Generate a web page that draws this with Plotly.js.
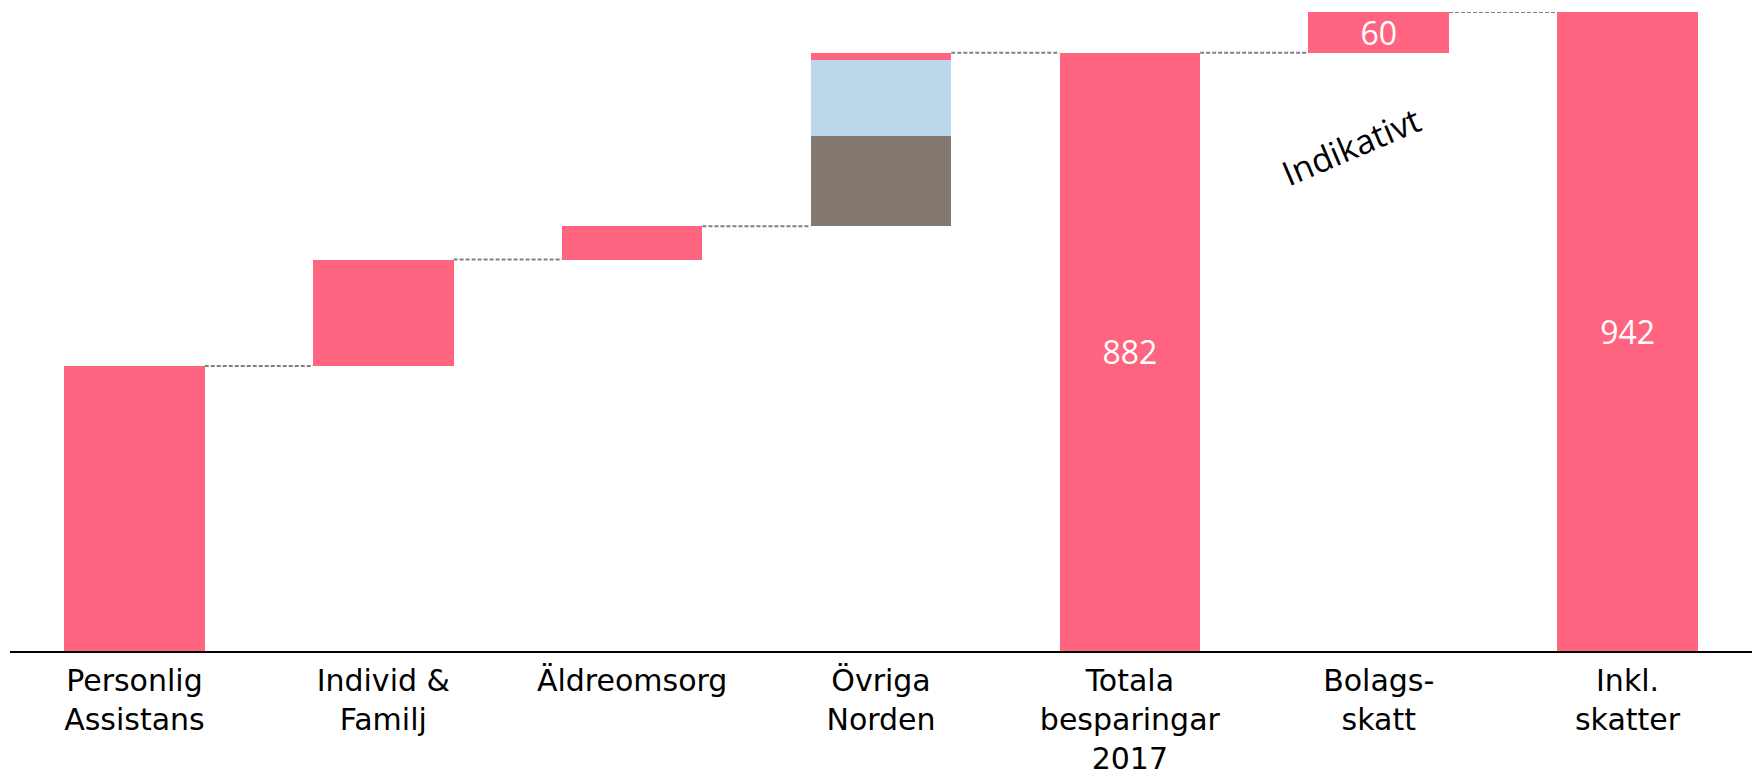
<!DOCTYPE html>
<html>
<head>
<meta charset="utf-8">
<script src="https://cdn.plot.ly/plotly-3.0.1.min.js"></script>
<style>html,body{margin:0;padding:0;background:#fff;}#chart{width:1759px;height:779px;}</style>
</head>
<body>
<div id="chart"></div>
<script>
var categories = ["Personlig<br>Assistans", "Individ &amp;<br>Familj", "Äldreomsorg", "Övriga<br>Norden", "Totala<br>besparingar<br>2017", "Bolags-<br>skatt", "Inkl.<br>skatter"];
var baseValues = [0, 420, 577, 626, 0, 882, 0];
var brownValues = [0, 0, 0, 133, 0, 0, 0];
var blueValues = [0, 0, 0, 112, 0, 0, 0];
var pinkValues = [420, 157, 49, 11, 882, 60, 942];
var valueLabels = ["", "", "", "", "882", "60", "942"];
var annotationText = "Indikativt";

var PINK = "#FF6580", BLUE = "#BAD8EA", BROWN = "#82786F";
var barWidthFrac = 0.565;

var traces = [
  {type:"bar", x:categories, y:baseValues, marker:{color:"rgba(0,0,0,0)"}, hoverinfo:"skip", showlegend:false},
  {type:"bar", x:categories, y:brownValues, marker:{color:BROWN}, hoverinfo:"skip", showlegend:false},
  {type:"bar", x:categories, y:blueValues, marker:{color:BLUE}, hoverinfo:"skip", showlegend:false},
  {type:"bar", x:categories, y:pinkValues, marker:{color:PINK}, hoverinfo:"skip", showlegend:false,
   text:valueLabels, textposition:"inside", insidetextanchor:"middle", constraintext:"none", textangle:0,
   textfont:{family:"Open Sans", size:32, color:"#ffffff"}}
];

var tops = categories.map(function(_, i){ return baseValues[i] + brownValues[i] + blueValues[i] + pinkValues[i]; });
var shapes = [];
for (var i = 0; i < categories.length - 1; i++) {
  shapes.push({type:"line", xref:"x", yref:"y",
    x0: i + barWidthFrac/2, x1: i + 1 - barWidthFrac/2, y0: tops[i], y1: tops[i],
    line:{color:"#808080", width:2, dash:"4px,2px"}});
}

var layout = {
  width:1759, height:779,
  margin:{l:10, r:7, t:12, b:128, pad:0},
  paper_bgcolor:"#fff", plot_bgcolor:"#fff",
  barmode:"stack", bargap:1 - barWidthFrac,
  showlegend:false, hovermode:false,
  font:{family:"DejaVu Sans", color:"#000"},
  xaxis:{type:"category", range:[-0.5, categories.length - 0.5], showline:true, linecolor:"#000", linewidth:2,
    showgrid:false, zeroline:false, ticks:"", ticklabelstandoff:2,
    tickfont:{family:"DejaVu Sans", size:30, color:"#000"}, fixedrange:true},
  yaxis:{range:[0, 942], visible:false, showgrid:false, zeroline:false, fixedrange:true},
  shapes:shapes,
  annotations:[{x:4.89, y:744, xref:"x", yref:"y", text:annotationText, showarrow:false, textangle:-23,
    font:{family:"Open Sans", size:34, color:"#000"}}]
};

Plotly.newPlot("chart", traces, layout, {displayModeBar:false, staticPlot:true});
</script>
</body>
</html>
